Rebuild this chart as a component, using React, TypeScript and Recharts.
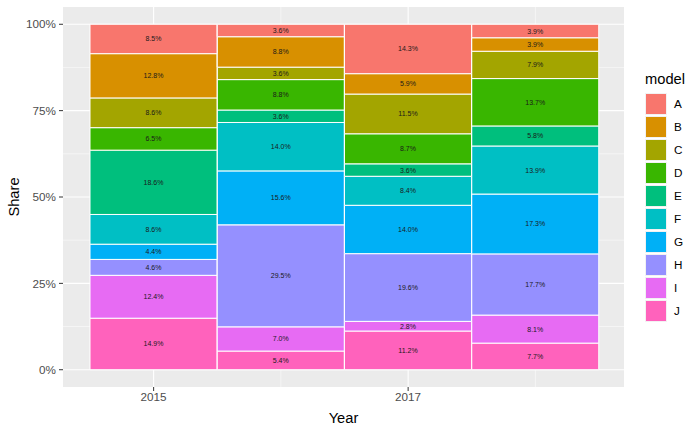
import { BarChart, Bar, XAxis, YAxis, CartesianGrid, LabelList, Label } from 'recharts';

const years = ['2015', '2016', '2017', '2018'];
const models = ['A', 'B', 'C', 'D', 'E', 'F', 'G', 'H', 'I', 'J'];
const colors = ['#F8766D', '#D89000', '#A3A500', '#39B600', '#00BF7D', '#00BFC4', '#00B0F6', '#9590FF', '#E76BF3', '#FF62BC'];

// share of each model per year, in percent (as labelled)
const share2015 = [8.5, 12.8, 8.6, 6.5, 18.6, 8.6, 4.4, 4.6, 12.4, 14.9];
const share2016 = [3.6, 8.8, 3.6, 8.8, 3.6, 14.0, 15.6, 29.5, 7.0, 5.4];
const share2017 = [14.3, 5.9, 11.5, 8.7, 3.6, 8.4, 14.0, 19.6, 2.8, 11.2];
const share2018 = [3.9, 3.9, 7.9, 13.7, 5.8, 13.9, 17.3, 17.7, 8.1, 7.7];

const yTicks = [0, 25, 50, 75, 100];
const yMinor = [12.5, 37.5, 62.5, 87.5];

const shares = [share2015, share2016, share2017, share2018];
const chartData = years.map((year, i) => {
  const vals = shares[i];
  const total = vals.reduce((a, b) => a + b, 0);
  const row: Record<string, string | number> = { year };
  models.forEach((m, j) => {
    row[m] = (vals[j] / total) * 100;
    row[m + '_pct'] = vals[j];
  });
  return row;
});

const font = '"Liberation Sans", Arial, sans-serif';

export default function App() {
  // J drawn first so it sits at the bottom of each stack
  const stackOrder = [...models].reverse();
  return (
    <div style={{ position: 'absolute', left: 0, top: 0, width: 700, height: 432, background: '#fff', fontFamily: font }}>
      <BarChart
        width={700}
        height={432}
        data={chartData}
        margin={{ top: 7, right: 76, bottom: 0, left: 0 }}
        barCategoryGap={0}
        style={{ fontFamily: font }}
      >
        <CartesianGrid fill="#EBEBEB" stroke="#ffffff" strokeWidth={0.5} horizontalValues={yMinor} verticalValues={['2016', '2018']} />
        <CartesianGrid stroke="#ffffff" strokeWidth={1.1} horizontalValues={yTicks} verticalValues={['2015', '2017']} />
        <XAxis
          dataKey="year"
          type="category"
          ticks={['2015', '2017']}
          interval={0}
          padding={{ left: 27, right: 25 }}
          axisLine={false}
          tickLine={{ stroke: '#333333' }}
          tickSize={4}
          tickMargin={2}
          height={45}
          tick={{ fill: '#4D4D4D', fontSize: 11.7 }}
        >
          <Label value="Year" position="insideBottom" offset={9} style={{ fill: '#000', fontSize: 14.7 }} />
        </XAxis>
        <YAxis
          type="number"
          domain={[-5, 105]}
          ticks={yTicks}
          allowDataOverflow
          width={63}
          axisLine={false}
          tickLine={{ stroke: '#333333' }}
          tickSize={4}
          tickMargin={3}
          tickFormatter={(v: number) => `${v}%`}
          tick={{ fill: '#4D4D4D', fontSize: 11.7 }}
        >
          <Label value="Share" angle={-90} position="insideLeft" offset={14} style={{ fill: '#000', fontSize: 14.7, textAnchor: 'middle' }} />
        </YAxis>
        {stackOrder.map((m) => (
          <Bar
            key={m}
            dataKey={m}
            stackId="s"
            fill={colors[models.indexOf(m)]}
            stroke="#ffffff"
            strokeWidth={1}
            isAnimationActive={false}
          >
            <LabelList
              dataKey={m + '_pct'}
              position="center"
              formatter={(v: number) => `${Number(v).toFixed(1)}%`}
              style={{ fill: '#1a1a1a', fontSize: 7 }}
            />
          </Bar>
        ))}
      </BarChart>
      <div style={{ position: 'absolute', left: 645, top: 71 }}>
        <div style={{ fontSize: 14.7, color: '#000', marginBottom: 5 }}>model</div>
        {models.map((m, j) => (
          <div key={m} style={{ display: 'flex', alignItems: 'center', height: 23 }}>
            <div style={{ width: 22, height: 22, background: '#F2F2F2', display: 'flex', alignItems: 'center', justifyContent: 'center' }}>
              <div style={{ width: 20, height: 20, background: colors[j] }} />
            </div>
            <span style={{ fontSize: 11.7, color: '#000', marginLeft: 7 }}>{m}</span>
          </div>
        ))}
      </div>
    </div>
  );
}
